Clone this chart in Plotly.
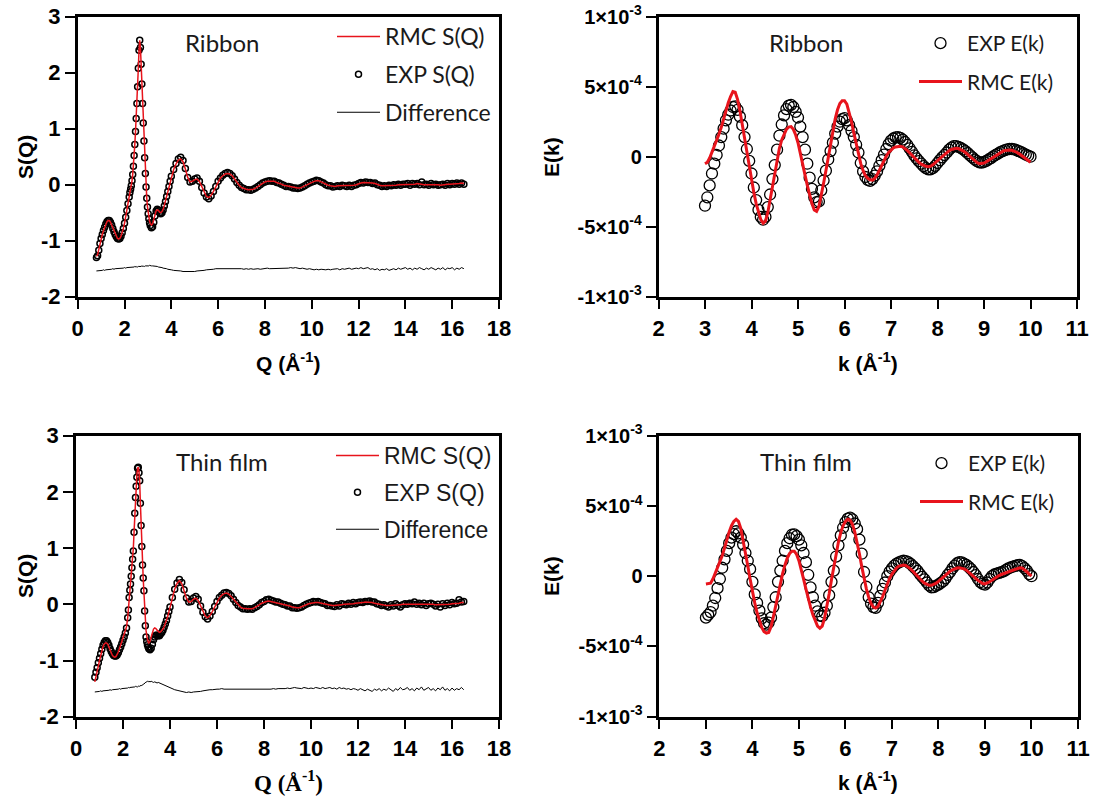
import plotly.graph_objects as go

# ---------------------------------------------------------------------------
# Structure factor S(Q): shared scattering-vector grid (Å^-1)
# ---------------------------------------------------------------------------
Q_LOW = [0.80, 0.85, 0.90, 0.95, 1.00, 1.05, 1.10, 1.15, 1.20, 1.25,
         1.30, 1.35, 1.40, 1.45, 1.50, 1.55, 1.60, 1.65, 1.70, 1.75,
         1.80, 1.85, 1.90, 1.95, 2.00, 2.05, 2.10, 2.15, 2.20,
         2.23, 2.26, 2.29, 2.32, 2.35, 2.38, 2.41, 2.44, 2.47, 2.50,
         2.53, 2.56, 2.59, 2.62, 2.65, 2.68, 2.71, 2.74, 2.77, 2.80,
         2.83, 2.86, 2.89, 2.92, 2.95, 2.98, 3.01, 3.04, 3.07,
         3.10, 3.15, 3.20, 3.25, 3.30, 3.35, 3.40, 3.45, 3.50, 3.55,
         3.60, 3.65, 3.70, 3.75, 3.80, 3.85, 3.90, 3.95, 4.00]
Q_HIGH = [4.1, 4.2, 4.3, 4.4, 4.5, 4.6, 4.7, 4.8, 4.9,
          5.0, 5.1, 5.2, 5.3, 5.4, 5.5, 5.6, 5.7, 5.8, 5.9,
          6.0, 6.1, 6.2, 6.3, 6.4, 6.5, 6.6, 6.7, 6.8, 6.9,
          7.0, 7.1, 7.2, 7.3, 7.4, 7.5, 7.6, 7.7, 7.8, 7.9,
          8.0, 8.1, 8.2, 8.3, 8.4, 8.5, 8.6, 8.7, 8.8, 8.9,
          9.0, 9.1, 9.2, 9.3, 9.4, 9.5, 9.6, 9.7, 9.8, 9.9,
          10.0, 10.1, 10.2, 10.3, 10.4, 10.5, 10.6, 10.7, 10.8, 10.9,
          11.0, 11.1, 11.2, 11.3, 11.4, 11.5, 11.6, 11.7, 11.8, 11.9,
          12.0, 12.1, 12.2, 12.3, 12.4, 12.5, 12.6, 12.7, 12.8, 12.9,
          13.0, 13.1, 13.2, 13.3, 13.4, 13.5, 13.6, 13.7, 13.8, 13.9,
          14.0, 14.1, 14.2, 14.3, 14.4, 14.5, 14.6, 14.7, 14.8, 14.9,
          15.0, 15.1, 15.2, 15.3, 15.4, 15.5, 15.6, 15.7, 15.8, 15.9,
          16.0, 16.1, 16.2, 16.3, 16.4, 16.5]
Q = Q_LOW + Q_HIGH

# Ribbon
SQ_RIBBON_EXP = [
    -1.30, -1.27, -1.17, -1.05, -0.96, -0.89, -0.82, -0.76, -0.70, -0.66,
    -0.64, -0.64, -0.67, -0.72, -0.78, -0.84, -0.89, -0.93, -0.96, -0.97,
    -0.96, -0.92, -0.86, -0.78, -0.69, -0.58, -0.46, -0.34, -0.22,
    -0.14, -0.08, -0.02, 0.07, 0.18, 0.33, 0.52, 0.72, 0.95, 1.18,
    1.45, 1.75, 2.08, 2.40, 2.58, 2.45, 2.15, 1.80, 1.45, 1.10,
    0.78, 0.48, 0.20, -0.04, -0.24, -0.40, -0.52, -0.61, -0.68,
    -0.73, -0.77, -0.75, -0.67, -0.56, -0.47, -0.44, -0.46, -0.50, -0.52,
    -0.50, -0.45, -0.38, -0.30, -0.21, -0.12, -0.03, 0.06, 0.15,
    0.27, 0.38, 0.46, 0.49, 0.43, 0.29, 0.13, 0.05, 0.06,
    0.10, 0.12, 0.06, -0.05, -0.15, -0.22, -0.25, -0.20, -0.12, -0.03,
    0.06, 0.12, 0.17, 0.20, 0.22, 0.20, 0.16, 0.10, 0.04, -0.01,
    -0.05, -0.07, -0.09, -0.09, -0.10, -0.08, -0.06, -0.03, 0.00, 0.03,
    0.05, 0.06, 0.07, 0.06, 0.06, 0.04, 0.03, 0.01, -0.01, -0.03,
    -0.03, -0.04, -0.06, -0.06, -0.07, -0.06, -0.04, -0.02, 0.01, 0.03,
    0.05, 0.06, 0.08, 0.07, 0.05, 0.03, 0.00, -0.02, -0.02, -0.04,
    -0.03, -0.02, -0.03, -0.01, -0.02, -0.03, -0.01, -0.03, -0.01, 0.00,
    0.02, 0.04, 0.03, 0.05, 0.04, 0.04, 0.02, 0.03, 0.00, -0.01,
    -0.03, -0.02, -0.03, -0.01, -0.02, 0.00, -0.01, 0.01, -0.01, 0.01,
    0.01, 0.02, -0.01, 0.02, 0.01, 0.02, 0.00, 0.05, 0.00, 0.01,
    -0.01, 0.02, 0.00, 0.01, -0.01, 0.00, 0.01, -0.01, 0.02, 0.00,
    0.02, 0.01, 0.03, 0.01, 0.03, 0.01]
SQ_RIBBON_RMC = [
    -1.28, -1.25, -1.16, -1.05, -0.96, -0.89, -0.82, -0.76, -0.70, -0.66,
    -0.64, -0.64, -0.67, -0.72, -0.78, -0.84, -0.89, -0.93, -0.96, -0.97,
    -0.96, -0.92, -0.86, -0.78, -0.69, -0.58, -0.46, -0.34, -0.22,
    -0.14, -0.08, -0.02, 0.07, 0.18, 0.33, 0.52, 0.72, 0.95, 1.18,
    1.45, 1.75, 2.08, 2.40, 2.58, 2.45, 2.15, 1.80, 1.45, 1.10,
    0.78, 0.48, 0.20, -0.04, -0.24, -0.39, -0.50, -0.59, -0.65,
    -0.69, -0.72, -0.70, -0.63, -0.54, -0.47, -0.45, -0.46, -0.49, -0.50,
    -0.48, -0.44, -0.37, -0.29, -0.20, -0.11, -0.02, 0.07, 0.15,
    0.27, 0.37, 0.44, 0.46, 0.41, 0.28, 0.13, 0.05, 0.06,
    0.09, 0.10, 0.06, -0.04, -0.14, -0.21, -0.23, -0.19, -0.12, -0.03,
    0.06, 0.12, 0.16, 0.19, 0.20, 0.19, 0.16, 0.10, 0.04, -0.01,
    -0.05, -0.07, -0.08, -0.09, -0.09, -0.08, -0.06, -0.03, 0.00, 0.03,
    0.05, 0.06, 0.06, 0.06, 0.06, 0.04, 0.03, 0.01, -0.01, -0.02,
    -0.03, -0.04, -0.05, -0.06, -0.06, -0.06, -0.04, -0.02, 0.01, 0.03,
    0.05, 0.06, 0.07, 0.07, 0.05, 0.03, 0.00, -0.01, -0.02, -0.03,
    -0.03, -0.02, -0.02, -0.02, -0.01, -0.02, -0.02, -0.02, -0.01, 0.00,
    0.02, 0.03, 0.04, 0.04, 0.04, 0.03, 0.03, 0.02, 0.00, -0.01,
    -0.02, -0.02, -0.02, -0.02, -0.01, -0.01, -0.01, 0.00, 0.00, 0.00,
    0.01, 0.01, 0.00, 0.01, 0.01, 0.02, 0.01, 0.01, 0.00, 0.00,
    0.00, 0.01, 0.00, 0.00, 0.00, -0.01, 0.00, 0.00, 0.01, 0.01,
    0.01, 0.01, 0.02, 0.02, 0.03, 0.02]
SQ_RIBBON_DIFF = [
    -1.54, -1.54, -1.53, -1.53, -1.54, -1.53, -1.52, -1.53, -1.52, -1.52,
    -1.51, -1.52, -1.51, -1.51, -1.50, -1.51, -1.50, -1.50, -1.50, -1.49,
    -1.50, -1.49, -1.49, -1.49, -1.48, -1.49, -1.48, -1.48, -1.48,
    -1.48, -1.47, -1.48, -1.47, -1.48, -1.47, -1.47, -1.46, -1.47, -1.47,
    -1.46, -1.47, -1.46, -1.46, -1.47, -1.46, -1.46, -1.45, -1.46, -1.46,
    -1.45, -1.46, -1.45, -1.45, -1.46, -1.45, -1.45, -1.45, -1.44,
    -1.45, -1.45, -1.45, -1.45, -1.46, -1.46, -1.46, -1.47, -1.47, -1.48,
    -1.48, -1.49, -1.49, -1.50, -1.50, -1.51, -1.51, -1.52, -1.52,
    -1.53, -1.53, -1.54, -1.54, -1.55, -1.55, -1.56, -1.55, -1.55,
    -1.55, -1.54, -1.54, -1.53, -1.53, -1.52, -1.52, -1.51, -1.51, -1.50,
    -1.50, -1.49, -1.50, -1.49, -1.50, -1.49, -1.50, -1.50, -1.49, -1.50,
    -1.50, -1.51, -1.50, -1.51, -1.50, -1.51, -1.50, -1.50, -1.51, -1.50,
    -1.50, -1.49, -1.50, -1.50, -1.49, -1.50, -1.49, -1.49, -1.50, -1.49,
    -1.49, -1.48, -1.49, -1.48, -1.49, -1.50, -1.49, -1.50, -1.51, -1.50,
    -1.51, -1.52, -1.51, -1.52, -1.51, -1.52, -1.52, -1.51, -1.52, -1.51,
    -1.51, -1.50, -1.52, -1.50, -1.51, -1.50, -1.49, -1.51, -1.50, -1.49,
    -1.50, -1.48, -1.50, -1.49, -1.48, -1.51, -1.50, -1.52, -1.50, -1.53,
    -1.51, -1.52, -1.50, -1.53, -1.51, -1.50, -1.52, -1.49, -1.51, -1.50,
    -1.48, -1.51, -1.49, -1.52, -1.49, -1.51, -1.48, -1.50, -1.52, -1.49,
    -1.51, -1.48, -1.50, -1.52, -1.49, -1.51, -1.48, -1.52, -1.49, -1.50,
    -1.48, -1.52, -1.49, -1.51, -1.48, -1.50]

# Thin film
SQ_FILM_EXP = [
    -1.30, -1.21, -1.13, -1.04, -0.96, -0.88, -0.80, -0.73, -0.68, -0.65,
    -0.65, -0.68, -0.73, -0.79, -0.84, -0.88, -0.91, -0.92, -0.92, -0.90,
    -0.86, -0.81, -0.76, -0.70, -0.64, -0.58, -0.51, -0.42, -0.24,
    -0.10, 0.12, 0.25, 0.36, 0.50, 0.65, 0.80, 0.95, 1.28, 1.62,
    1.90, 2.10, 2.26, 2.42, 2.44, 2.34, 2.20, 1.80, 1.40, 1.03,
    0.70, 0.47, 0.24, -0.12, -0.38, -0.58, -0.66, -0.72, -0.76,
    -0.79, -0.81, -0.78, -0.71, -0.63, -0.58, -0.55, -0.55, -0.56, -0.56,
    -0.53, -0.50, -0.46, -0.41, -0.35, -0.29, -0.21, -0.13, -0.05,
    0.12, 0.27, 0.38, 0.44, 0.39, 0.26, 0.11, 0.04, 0.05,
    0.11, 0.14, 0.09, -0.03, -0.14, -0.22, -0.26, -0.21, -0.13, -0.04,
    0.05, 0.12, 0.16, 0.20, 0.21, 0.19, 0.15, 0.09, 0.03, -0.02,
    -0.05, -0.08, -0.08, -0.09, -0.08, -0.09, -0.06, -0.04, -0.01, 0.03,
    0.05, 0.08, 0.09, 0.07, 0.06, 0.04, 0.04, 0.02, 0.00, -0.01,
    -0.03, -0.03, -0.06, -0.06, -0.07, -0.06, -0.05, -0.02, 0.00, 0.02,
    0.03, 0.05, 0.04, 0.05, 0.03, 0.02, 0.01, -0.02, -0.02, -0.03,
    -0.04, -0.01, -0.03, 0.01, 0.00, -0.01, 0.02, 0.00, 0.03, 0.01,
    0.03, 0.04, 0.03, 0.05, 0.05, 0.06, 0.04, 0.04, 0.01, 0.00,
    -0.02, -0.01, -0.03, -0.05, -0.01, -0.03, 0.01, -0.02, -0.05, -0.01,
    0.01, 0.00, 0.02, 0.01, 0.04, 0.00, 0.02, -0.01, 0.02, -0.02,
    0.01, 0.02, 0.00, -0.03, 0.00, -0.05, 0.01, -0.02, 0.02, -0.01,
    0.03, 0.01, 0.02, 0.08, 0.04, 0.05]
SQ_FILM_RMC = [
    -1.38, -1.30, -1.20, -1.10, -1.00, -0.91, -0.82, -0.75, -0.71, -0.69,
    -0.69, -0.71, -0.76, -0.82, -0.87, -0.91, -0.93, -0.94, -0.93, -0.90,
    -0.85, -0.79, -0.73, -0.67, -0.61, -0.55, -0.48, -0.40, -0.24,
    -0.10, 0.10, 0.24, 0.36, 0.50, 0.66, 0.82, 1.00, 1.28, 1.60,
    1.90, 2.12, 2.30, 2.42, 2.44, 2.36, 2.18, 1.80, 1.40, 1.03,
    0.70, 0.46, 0.22, -0.08, -0.30, -0.46, -0.56, -0.63, -0.67,
    -0.69, -0.66, -0.58, -0.50, -0.44, -0.42, -0.43, -0.46, -0.49, -0.50,
    -0.49, -0.47, -0.44, -0.40, -0.35, -0.29, -0.22, -0.14, -0.06,
    0.13, 0.27, 0.37, 0.42, 0.37, 0.25, 0.11, 0.04, 0.05,
    0.09, 0.11, 0.07, -0.03, -0.14, -0.21, -0.24, -0.20, -0.13, -0.04,
    0.05, 0.11, 0.16, 0.19, 0.20, 0.18, 0.14, 0.09, 0.03, -0.02,
    -0.05, -0.07, -0.08, -0.08, -0.08, -0.08, -0.06, -0.04, -0.01, 0.02,
    0.04, 0.05, 0.06, 0.05, 0.05, 0.04, 0.03, 0.02, 0.00, -0.01,
    -0.02, -0.03, -0.05, -0.06, -0.06, -0.06, -0.04, -0.02, 0.00, 0.01,
    0.02, 0.03, 0.03, 0.03, 0.02, 0.01, 0.00, -0.01, -0.02, -0.02,
    -0.02, -0.02, -0.01, -0.01, 0.00, 0.00, 0.00, 0.01, 0.01, 0.02,
    0.02, 0.03, 0.03, 0.04, 0.04, 0.04, 0.03, 0.02, 0.01, 0.00,
    -0.01, -0.01, -0.02, -0.02, -0.02, -0.01, -0.01, -0.01, -0.01, 0.00,
    0.00, 0.00, 0.01, 0.01, 0.01, 0.01, 0.01, 0.00, 0.00, 0.00,
    0.00, 0.00, 0.00, -0.01, -0.01, -0.01, -0.01, 0.00, 0.00, 0.00,
    0.01, 0.01, 0.02, 0.02, 0.03, 0.03]
SQ_FILM_DIFF = [
    -1.56, -1.56, -1.55, -1.55, -1.55, -1.54, -1.55, -1.54, -1.54, -1.53,
    -1.54, -1.53, -1.53, -1.52, -1.53, -1.52, -1.52, -1.51, -1.52, -1.51,
    -1.51, -1.50, -1.51, -1.50, -1.50, -1.49, -1.50, -1.49, -1.49,
    -1.48, -1.49, -1.48, -1.48, -1.47, -1.48, -1.47, -1.48, -1.47, -1.47,
    -1.46, -1.47, -1.46, -1.47, -1.46, -1.45, -1.46, -1.45, -1.44, -1.45,
    -1.43, -1.42, -1.42, -1.40, -1.39, -1.38, -1.38, -1.37, -1.38,
    -1.37, -1.38, -1.37, -1.38, -1.39, -1.38, -1.39, -1.40, -1.39, -1.40,
    -1.41, -1.42, -1.43, -1.44, -1.45, -1.46, -1.47, -1.48, -1.49,
    -1.51, -1.52, -1.53, -1.54, -1.55, -1.56, -1.57, -1.56, -1.57,
    -1.56, -1.56, -1.55, -1.55, -1.54, -1.53, -1.53, -1.52, -1.52, -1.51,
    -1.51, -1.51, -1.50, -1.51, -1.51, -1.51, -1.52, -1.51, -1.52, -1.52,
    -1.51, -1.52, -1.52, -1.51, -1.52, -1.52, -1.51, -1.52, -1.51, -1.51,
    -1.52, -1.51, -1.51, -1.51, -1.50, -1.51, -1.50, -1.50, -1.51, -1.50,
    -1.49, -1.50, -1.49, -1.48, -1.49, -1.49, -1.50, -1.48, -1.49, -1.50,
    -1.49, -1.50, -1.48, -1.49, -1.50, -1.48, -1.50, -1.49, -1.48, -1.50,
    -1.49, -1.51, -1.48, -1.50, -1.49, -1.51, -1.50, -1.52, -1.50, -1.51,
    -1.53, -1.50, -1.52, -1.54, -1.51, -1.53, -1.55, -1.51, -1.53, -1.50,
    -1.54, -1.51, -1.53, -1.49, -1.52, -1.55, -1.50, -1.53, -1.48, -1.52,
    -1.51, -1.48, -1.53, -1.50, -1.54, -1.49, -1.52, -1.47, -1.53, -1.50,
    -1.48, -1.53, -1.50, -1.54, -1.49, -1.52, -1.47, -1.53, -1.50, -1.54,
    -1.49, -1.53, -1.50, -1.52, -1.48, -1.52]

# ---------------------------------------------------------------------------
# EXAFS E(k): photoelectron wave-number grid (Å^-1), values in units of 1e-4
# ---------------------------------------------------------------------------
K = [3.00, 3.05, 3.10, 3.15, 3.20, 3.25, 3.30, 3.35, 3.40, 3.45,
     3.50, 3.55, 3.60, 3.65, 3.70, 3.75, 3.80, 3.85, 3.90, 3.95,
     4.00, 4.05, 4.10, 4.15, 4.20, 4.25, 4.30, 4.35, 4.40, 4.45,
     4.50, 4.55, 4.60, 4.65, 4.70, 4.75, 4.80, 4.85, 4.90, 4.95,
     5.00, 5.05, 5.10, 5.15, 5.20, 5.25, 5.30, 5.35, 5.40, 5.45,
     5.50, 5.55, 5.60, 5.65, 5.70, 5.75, 5.80, 5.85, 5.90, 5.95,
     6.00, 6.05, 6.10, 6.15, 6.20, 6.25, 6.30, 6.35, 6.40, 6.45,
     6.50, 6.55, 6.60, 6.65, 6.70, 6.75, 6.80, 6.85, 6.90, 6.95,
     7.00, 7.05, 7.10, 7.15, 7.20, 7.25, 7.30, 7.35, 7.40, 7.45,
     7.50, 7.55, 7.60, 7.65, 7.70, 7.75, 7.80, 7.85, 7.90, 7.95,
     8.00, 8.05, 8.10, 8.15, 8.20, 8.25, 8.30, 8.35, 8.40, 8.45,
     8.50, 8.55, 8.60, 8.65, 8.70, 8.75, 8.80, 8.85, 8.90, 8.95,
     9.00, 9.05, 9.10, 9.15, 9.20, 9.25, 9.30, 9.35, 9.40, 9.45,
     9.50, 9.55, 9.60, 9.65, 9.70, 9.75, 9.80, 9.85, 9.90, 9.95,
     10.00]
EK_UNIT = 1e-4

EK_RIBBON_EXP = [
    -3.50, -2.90, -2.05, -1.20, -0.50, 0.12, 0.80, 1.40, 2.00, 2.60,
    3.00, 3.30, 3.55, 3.60, 3.35, 2.86, 2.25, 1.40, 0.55, -0.30,
    -1.20, -2.20, -3.10, -3.80, -4.30, -4.50, -4.30, -3.60, -2.70, -1.60,
    -0.60, 0.50, 1.50, 2.30, 2.95, 3.40, 3.65, 3.70, 3.55, 3.20,
    2.80, 2.15, 1.40, 0.50, -0.50, -1.50, -2.30, -2.90, -3.25, -3.20,
    -2.40, -1.70, -1.00, -0.20, 0.40, 1.00, 1.65, 2.15, 2.50, 2.68,
    2.75, 2.60, 2.25, 1.85, 1.40, 0.85, 0.30, -0.45, -1.05, -1.45,
    -1.65, -1.72, -1.60, -1.35, -1.05, -0.65, -0.25, 0.15, 0.55, 0.90,
    1.15, 1.30, 1.38, 1.40, 1.35, 1.22, 1.05, 0.85, 0.60, 0.35,
    0.10, -0.12, -0.32, -0.50, -0.68, -0.82, -0.90, -0.90, -0.82, -0.65,
    -0.45, -0.25, -0.05, 0.12, 0.30, 0.50, 0.65, 0.75, 0.75, 0.70,
    0.62, 0.52, 0.40, 0.25, 0.10, -0.05, -0.20, -0.32, -0.40, -0.42,
    -0.38, -0.30, -0.20, -0.10, 0.02, 0.12, 0.22, 0.32, 0.40, 0.47,
    0.52, 0.55, 0.55, 0.52, 0.46, 0.40, 0.32, 0.24, 0.15, 0.07,
    0.00]
EK_RIBBON_RMC = [
    -0.50, -0.40, -0.10, 0.30, 0.75, 1.15, 1.60, 2.10, 2.70, 3.30,
    3.85, 4.30, 4.65, 4.60, 4.10, 3.30, 2.30, 1.30, 0.30, -0.70,
    -1.65, -2.55, -3.35, -4.00, -4.50, -4.75, -4.60, -4.00, -3.10, -2.10,
    -1.10, -0.20, 0.60, 1.20, 1.65, 1.95, 2.12, 2.15, 1.95, 1.55,
    1.00, 0.30, -0.50, -1.30, -2.05, -2.75, -3.35, -3.80, -3.90, -3.55,
    -2.80, -1.90, -1.00, 0.00, 0.95, 1.90, 2.70, 3.35, 3.80, 4.00,
    4.00, 3.75, 3.20, 2.50, 1.70, 0.90, 0.15, -0.50, -1.00, -1.35,
    -1.55, -1.65, -1.67, -1.55, -1.30, -0.95, -0.60, -0.25, 0.05, 0.30,
    0.50, 0.62, 0.70, 0.74, 0.75, 0.70, 0.60, 0.45, 0.28, 0.10,
    -0.08, -0.25, -0.40, -0.53, -0.63, -0.69, -0.71, -0.68, -0.58, -0.45,
    -0.30, -0.15, 0.00, 0.15, 0.30, 0.42, 0.52, 0.58, 0.60, 0.58,
    0.52, 0.42, 0.30, 0.15, 0.00, -0.15, -0.30, -0.42, -0.50, -0.50,
    -0.45, -0.36, -0.25, -0.13, -0.02, 0.10, 0.20, 0.30, 0.38, 0.44,
    0.47, 0.48, 0.46, 0.40, 0.32, 0.22, 0.10, -0.03, -0.16, -0.28,
    -0.40]
EK_FILM_EXP = [
    -2.95, -2.75, -2.55, -2.10, -1.55, -0.85, -0.20, 0.60, 1.20, 1.80,
    2.35, 2.75, 3.00, 3.20, 3.05, 2.75, 2.25, 1.65, 1.10, 0.50,
    -0.40, -1.30, -1.90, -2.45, -3.00, -3.35, -3.45, -3.30, -2.95, -2.20,
    -1.50, -0.40, 0.40, 1.10, 1.80, 2.35, 2.70, 2.95, 2.98, 2.85,
    2.60, 2.20, 1.65, 1.00, 0.10, -0.80, -1.50, -2.10, -2.50, -2.80,
    -2.85, -2.60, -2.10, -1.35, -0.40, 0.40, 1.40, 2.20, 2.90, 3.45,
    3.85, 4.10, 4.17, 4.05, 3.75, 3.35, 2.60, 1.60, 0.30, -0.75,
    -1.50, -1.95, -2.20, -2.25, -1.90, -1.40, -0.90, -0.45, 0.00, 0.32,
    0.55, 0.75, 0.90, 0.98, 1.05, 1.10, 1.08, 1.00, 0.88, 0.72,
    0.55, 0.38, 0.15, -0.05, -0.22, -0.45, -0.65, -0.80, -0.78, -0.68,
    -0.60, -0.48, -0.36, -0.15, 0.10, 0.30, 0.55, 0.75, 0.92, 1.00,
    0.98, 0.90, 0.80, 0.66, 0.50, 0.30, 0.08, -0.20, -0.42, -0.55,
    -0.60, -0.45, -0.20, 0.00, 0.12, 0.18, 0.24, 0.28, 0.35, 0.45,
    0.55, 0.62, 0.68, 0.74, 0.78, 0.80, 0.72, 0.58, 0.40, 0.15,
    0.00]
EK_FILM_RMC = [
    -0.55, -0.55, -0.50, -0.20, 0.20, 0.60, 1.00, 1.45, 2.00, 2.60,
    3.15, 3.60, 3.90, 4.05, 3.90, 3.40, 2.60, 1.70, 0.75, -0.20,
    -1.10, -1.90, -2.60, -3.20, -3.65, -3.95, -4.05, -4.00, -3.60, -2.90,
    -2.10, -1.30, -0.50, 0.20, 0.80, 1.30, 1.62, 1.78, 1.78, 1.55,
    1.10, 0.50, -0.20, -0.90, -1.60, -2.20, -2.75, -3.20, -3.55, -3.70,
    -3.55, -3.00, -2.20, -1.25, -0.25, 0.75, 1.65, 2.45, 3.10, 3.60,
    3.90, 4.05, 4.00, 3.70, 3.15, 2.45, 1.60, 0.70, -0.15, -0.90,
    -1.50, -1.95, -2.20, -2.27, -2.15, -1.85, -1.45, -1.00, -0.55, -0.15,
    0.15, 0.40, 0.60, 0.72, 0.78, 0.80, 0.76, 0.66, 0.52, 0.35,
    0.16, -0.03, -0.20, -0.36, -0.50, -0.60, -0.65, -0.65, -0.60, -0.50,
    -0.37, -0.22, -0.07, 0.08, 0.22, 0.35, 0.45, 0.53, 0.58, 0.60,
    0.58, 0.52, 0.43, 0.30, 0.15, 0.00, -0.15, -0.30, -0.43, -0.52,
    -0.55, -0.50, -0.40, -0.28, -0.15, -0.05, 0.05, 0.12, 0.18, 0.22,
    0.28, 0.35, 0.42, 0.50, 0.56, 0.60, 0.58, 0.48, 0.32, 0.15,
    0.00]

for name, arr in [("SQ_RIBBON_EXP", SQ_RIBBON_EXP), ("SQ_RIBBON_RMC", SQ_RIBBON_RMC),
                  ("SQ_RIBBON_DIFF", SQ_RIBBON_DIFF), ("SQ_FILM_EXP", SQ_FILM_EXP),
                  ("SQ_FILM_RMC", SQ_FILM_RMC), ("SQ_FILM_DIFF", SQ_FILM_DIFF)]:
    assert len(arr) == len(Q), (name, len(arr), len(Q))
for name, arr in [("EK_RIBBON_EXP", EK_RIBBON_EXP), ("EK_RIBBON_RMC", EK_RIBBON_RMC),
                  ("EK_FILM_EXP", EK_FILM_EXP), ("EK_FILM_RMC", EK_FILM_RMC)]:
    assert len(arr) == len(K), (name, len(arr), len(K))

# ---------------------------------------------------------------------------
# Figure
# ---------------------------------------------------------------------------
W, H = 1101, 799
RED = "#e8141c"
TICK_FONT = dict(family="Liberation Sans, Arial", size=22, color="black", weight="bold")
E_TICK_FONT = dict(family="Liberation Sans, Arial", size=20, color="black", weight="bold")
LABEL_FONT = "Lato, Calibri, sans-serif"
TEXT_COLOR = "#1a1a1a"


def fx(px):
    return px / W


def fy(py):
    return 1 - py / H


fig = go.Figure()

# --- S(Q) panels -----------------------------------------------------------
for ax, exp, rmc, diff, leg in [("", SQ_RIBBON_EXP, SQ_RIBBON_RMC, SQ_RIBBON_DIFF, "legend"),
                                ("3", SQ_FILM_EXP, SQ_FILM_RMC, SQ_FILM_DIFF, "legend3")]:
    xa, ya = "x" + ax, "y" + ax
    fig.add_trace(go.Scatter(
        x=Q, y=exp, mode="markers", name="EXP S(Q)", xaxis=xa, yaxis=ya,
        marker=dict(symbol="circle-open", size=6, color="black", line=dict(width=1.5)),
        legend=leg, legendgroup="exp" + ax, legendrank=2))
    fig.add_trace(go.Scatter(
        x=Q, y=rmc, mode="lines", name="RMC S(Q)", xaxis=xa, yaxis=ya,
        line=dict(color=RED, width=1.5),
        legend=leg, legendgroup="rmc" + ax, legendrank=1))
    fig.add_trace(go.Scatter(
        x=Q, y=diff, mode="lines", name="Difference", xaxis=xa, yaxis=ya,
        line=dict(color="black", width=1),
        legend=leg, legendgroup="diff" + ax, legendrank=3))

# --- E(k) panels -----------------------------------------------------------
for ax, exp, rmc, leg in [("2", EK_RIBBON_EXP, EK_RIBBON_RMC, "legend2"),
                          ("4", EK_FILM_EXP, EK_FILM_RMC, "legend4")]:
    xa, ya = "x" + ax, "y" + ax
    fig.add_trace(go.Scatter(
        x=K, y=[v * EK_UNIT for v in exp], mode="markers", name="EXP E(k)",
        xaxis=xa, yaxis=ya,
        marker=dict(symbol="circle-open", size=11, color="black", line=dict(width=1.3)),
        legend=leg, legendgroup="exp" + ax, legendrank=1))
    fig.add_trace(go.Scatter(
        x=K, y=[v * EK_UNIT for v in rmc], mode="lines", name="RMC E(k)",
        xaxis=xa, yaxis=ya, line=dict(color=RED, width=3),
        legend=leg, legendgroup="rmc" + ax, legendrank=2))

axis_common = dict(showline=True, linewidth=2.5, linecolor="black", mirror=True,
                   ticks="outside", ticklen=10, tickwidth=2.2, tickcolor="black",
                   showgrid=False, zeroline=False, automargin=False)

Q_TICKS = [0, 2, 4, 6, 8, 10, 12, 14, 16, 18]
S_TICKS = [-2, -1, 0, 1, 2, 3]
S_TICKTEXT = ["-2", "-1", "0", "1", "2", "3"]
K_TICKS = [2, 3, 4, 5, 6, 7, 8, 9, 10, 11]
E_TICKS = [-1e-3, -5e-4, 0, 5e-4, 1e-3]
E_TICKTEXT = ["-1×10<sup>-3</sup>", "-5×10<sup>-4</sup>", "0",
              "5×10<sup>-4</sup>", "1×10<sup>-3</sup>"]

top_y = [fy(296.7), fy(16.7)]
bot_y = [fy(716.7), fy(435.7)]

fig.update_layout(
    xaxis=dict(domain=[fx(77.7), fx(499)], range=[0, 18], tickvals=Q_TICKS, anchor="y",
               tickfont=TICK_FONT, **axis_common),
    yaxis=dict(domain=top_y, range=[-2, 3], tickvals=S_TICKS, ticktext=S_TICKTEXT, anchor="x",
               tickfont=TICK_FONT, **axis_common),
    xaxis2=dict(domain=[fx(658.5), fx(1077)], range=[2, 11], tickvals=K_TICKS, anchor="y2",
                tickfont=TICK_FONT, **axis_common),
    yaxis2=dict(domain=top_y, range=[-1e-3, 1e-3], tickvals=E_TICKS, ticktext=E_TICKTEXT, anchor="x2",
                tickfont=E_TICK_FONT, **axis_common),
    xaxis3=dict(domain=[fx(76), fx(499)], range=[0, 18], tickvals=Q_TICKS, anchor="y3",
                tickfont=TICK_FONT, **axis_common),
    yaxis3=dict(domain=bot_y, range=[-2, 3], tickvals=S_TICKS, ticktext=S_TICKTEXT, anchor="x3",
                tickfont=TICK_FONT, **axis_common),
    xaxis4=dict(domain=[fx(659.4), fx(1078)], range=[2, 11], tickvals=K_TICKS, anchor="y4",
                tickfont=TICK_FONT, **axis_common),
    yaxis4=dict(domain=bot_y, range=[-1e-3, 1e-3], tickvals=E_TICKS, ticktext=E_TICKTEXT, anchor="x4",
                tickfont=E_TICK_FONT, **axis_common),
    width=W, height=H, margin=dict(l=0, r=0, t=0, b=0),
    paper_bgcolor="white", plot_bgcolor="white", showlegend=True,
)

legend_common = dict(xanchor="left", yanchor="top", bgcolor="rgba(0,0,0,0)",
                     borderwidth=0, traceorder="grouped", itemclick=False,
                     itemdoubleclick=False, itemwidth=43)
fig.update_layout(
    legend=dict(x=fx(332), y=fy(15), tracegroupgap=5,
                font=dict(family=LABEL_FONT, size=23, color=TEXT_COLOR), **legend_common),
    legend3=dict(x=fx(331), y=fy(434), tracegroupgap=4,
                 font=dict(family="Liberation Sans, Arial", size=23, color=TEXT_COLOR), **legend_common),
    legend2=dict(x=fx(914), y=fy(23), tracegroupgap=8,
                 font=dict(family=LABEL_FONT, size=21, color=TEXT_COLOR), **legend_common),
    legend4=dict(x=fx(915), y=fy(443), tracegroupgap=8,
                 font=dict(family=LABEL_FONT, size=21, color=TEXT_COLOR), **legend_common),
)

AX_TITLE = dict(family="Liberation Sans, Arial", size=21, color="black", weight="bold")
annotations = [
    # panel labels
    dict(text="Ribbon", x=fx(222), y=fy(42), font=dict(family=LABEL_FONT, size=24, color=TEXT_COLOR)),
    dict(text="Ribbon", x=fx(806), y=fy(42), font=dict(family=LABEL_FONT, size=24, color=TEXT_COLOR)),
    dict(text="Thin film", x=fx(222), y=fy(461), font=dict(family=LABEL_FONT, size=24, color=TEXT_COLOR)),
    dict(text="Thin film", x=fx(806), y=fy(461), font=dict(family=LABEL_FONT, size=24, color=TEXT_COLOR)),
    # axis titles
    dict(text="S(Q)", x=fx(25), y=fy(157), textangle=-90, font=AX_TITLE),
    dict(text="Q (Å<sup>-1</sup>)", x=fx(288), y=fy(362), font=AX_TITLE),
    dict(text="E(k)", x=fx(551), y=fy(157), textangle=-90, font=AX_TITLE),
    dict(text="k (Å<sup>-1</sup>)", x=fx(868), y=fy(362), font=AX_TITLE),
    dict(text="S(Q)", x=fx(25), y=fy(576), textangle=-90, font=AX_TITLE),
    dict(text="Q (Å<sup>-1</sup>)", x=fx(288), y=fy(781),
         font=dict(family="Liberation Serif, Times New Roman", size=23, color="black", weight="bold")),
    dict(text="E(k)", x=fx(551), y=fy(576), textangle=-90, font=AX_TITLE),
    dict(text="k (Å<sup>-1</sup>)", x=fx(868), y=fy(781), font=AX_TITLE),
]
for a in annotations:
    a.update(xref="paper", yref="paper", showarrow=False, xanchor="center", yanchor="middle")
fig.update_layout(annotations=annotations)

fig.write_html("out.html")
